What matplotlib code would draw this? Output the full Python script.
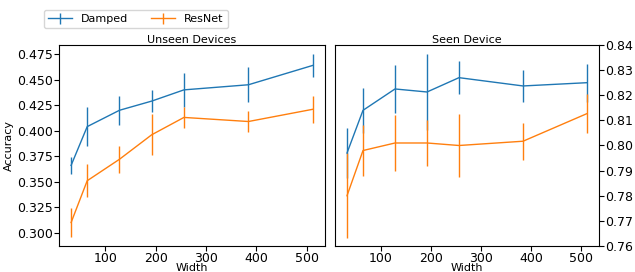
import matplotlib.pyplot as plt

widths = [32, 64, 128, 192, 256, 384, 512]

unseen_damped = [0.366, 0.404, 0.420, 0.429, 0.440, 0.445, 0.464]
unseen_damped_err = [0.008, 0.019, 0.014, 0.011, 0.017, 0.017, 0.011]
unseen_resnet = [0.310, 0.351, 0.372, 0.396, 0.413, 0.409, 0.421]
unseen_resnet_err = [0.014, 0.016, 0.013, 0.020, 0.010, 0.010, 0.013]

seen_damped = [0.797, 0.814, 0.8225, 0.8213, 0.827, 0.8237, 0.825]
seen_damped_err = [0.010, 0.009, 0.0095, 0.015, 0.0065, 0.0065, 0.0075]
seen_resnet = [0.780, 0.798, 0.801, 0.801, 0.800, 0.8017, 0.8127]
seen_resnet_err = [0.017, 0.010, 0.011, 0.009, 0.0125, 0.0073, 0.0077]

plt.rcParams["font.size"] = 8

fig = plt.figure(figsize=(6.35, 2.72), dpi=100)
ax1 = fig.add_axes([59 / 635, 1 - 246 / 272, 266 / 635, 201 / 272])
ax2 = fig.add_axes([335 / 635, 1 - 246 / 272, 264 / 635, 201 / 272])

ax1.errorbar(widths, unseen_damped, yerr=unseen_damped_err, color="C0", lw=1, label="Damped")
ax1.errorbar(widths, unseen_resnet, yerr=unseen_resnet_err, color="C1", lw=1, label="ResNet")
ax1.set_title("Unseen Devices", fontsize=8, pad=1)
ax1.set_xlabel("Width", fontsize=8, labelpad=-1.5)
ax1.set_ylabel("Accuracy", fontsize=8, labelpad=2)
ax1.set_xticks([100, 200, 300, 400, 500])

ax2.errorbar(widths, seen_damped, yerr=seen_damped_err, color="C0", lw=1)
ax2.errorbar(widths, seen_resnet, yerr=seen_resnet_err, color="C1", lw=1)
ax2.set_title("Seen Device", fontsize=8, pad=1)
ax2.set_xlabel("Width", fontsize=8, labelpad=-1.5)
ax2.set_ylim(0.76, 0.84)
ax2.set_xticks([100, 200, 300, 400, 500])
ax2.yaxis.tick_right()

for ax in (ax1, ax2):
    ax.tick_params(labelsize=9, pad=1)

handles, labels = ax1.get_legend_handles_labels()
fig.legend(handles, labels, ncol=2, loc="upper left", bbox_to_anchor=(38 / 635, 1 - 4 / 272),
           fontsize=8, handlelength=2.2, columnspacing=2.0)

fig.savefig("out.png", dpi=100)
